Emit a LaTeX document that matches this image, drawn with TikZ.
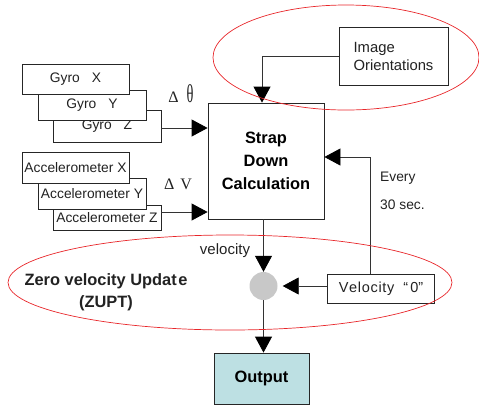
\documentclass[tikz,border=0pt]{standalone}
\usepackage{fontspec}
\setmainfont{Liberation Sans}
\newfontfamily\serifgreek{Liberation Serif}
\usetikzlibrary{arrows.meta}
\definecolor{outfill}{HTML}{BDE0E3}
\definecolor{txtgray}{HTML}{222222}
\definecolor{dotgray}{HTML}{C8C8C8}
\definecolor{ringred}{HTML}{E8262A}
\begin{document}
\begin{tikzpicture}[x=1pt,y=-1pt,
  box/.style={draw=black!85,line width=0.8pt,fill=white,rectangle,inner sep=1pt,
    text=txtgray,font=\fontsize{13.8}{16}\selectfont},
  bigbox/.style={draw=black!85,line width=0.8pt,fill=white,rectangle,
    font=\fontsize{16.4}{23}\selectfont\bfseries,align=center},
  lbl/.style={inner sep=0pt,text=txtgray},
  arr/.style={draw=black!80,line width=0.8pt,-{Triangle[length=16pt,width=17pt,color=black]}},
  ring/.style={draw=ringred,line width=0.7pt}]
\useasboundingbox (0,0) rectangle (479,405);

% sensor stacks (back to front)
\node[box,minimum width=108pt,minimum height=32pt] (gz) at (107,126) {Gyro\hspace{12pt}Z};
\node[box,minimum width=108pt,minimum height=30pt] (gy) at (92,105) {Gyro\hspace{12pt}Y};
\node[box,minimum width=107pt,minimum height=30pt] (gx) at (75.5,79) {Gyro\hspace{12pt}X};
\node[box,minimum width=108pt,minimum height=25pt] (az) at (107,217.5) {Accelerometer Z};
\node[box,minimum width=108pt,minimum height=31pt] (ay) at (92,193.5) {Accelerometer Y};
\node[box,minimum width=107pt,minimum height=31pt] (ax) at (75.5,167.5) {Accelerometer X};

% processing blocks
\node[bigbox,minimum width=116pt,minimum height=116pt] (sd) at (266,161) {Strap\\Down\\Calculation};
\node[box,minimum width=109pt,minimum height=58pt,align=left,
  font=\fontsize{14.8}{18}\selectfont] (img) at (393.5,56) {Image\\Orientations};
\node[box,minimum width=107pt,minimum height=29pt,font=\fontsize{14.5}{16}\selectfont] (vz) at (381,288.5)
  {V\hspace{0.7pt}e\hspace{0.7pt}l\hspace{0.7pt}o\hspace{0.7pt}c\hspace{0.7pt}i\hspace{0.7pt}t\hspace{0.7pt}y\hspace{9pt}“\hspace{2pt}0”};
\node[circle,fill=dotgray,minimum size=28pt,inner sep=0pt] (zu) at (263.5,286) {};
\node[draw=black!85,line width=0.8pt,fill=outfill,minimum width=95pt,minimum height=51pt,
  font=\fontsize{16.4}{20}\selectfont\bfseries] (out) at (261.5,378.5) {Output};

% labels
\node[lbl,font=\fontsize{16}{18}\selectfont] (dth) at (181,94)
  {\serifgreek Δ\hspace{8pt}\scalebox{0.9}[1.6]{θ}};
\node[lbl,font=\fontsize{16}{18}\selectfont] (dv) at (178,184) {\serifgreek Δ\hspace{6pt}V};
\node[lbl,font=\fontsize{15}{18}\selectfont] (vel) at (225,251) {velocity};
\node[lbl,font=\fontsize{13.8}{16}\selectfont,anchor=west] (ev) at (380,178) {Every};
\node[lbl,font=\fontsize{13.8}{16}\selectfont,anchor=west] (sec) at (380,205) {30 sec.};
\node[lbl,font=\fontsize{16.4}{22}\selectfont\bfseries,align=center] (zupt) at (106,292)
  {Zero velocity Updat\hspace{1.5pt}e\\(ZUPT)};

% connectors
\coordinate (imgdrop) at ([xshift=-4pt]sd.north);
\draw[arr] (img.west) -| (imgdrop);
\draw[arr] ([yshift=-2pt]gz.east) -- ([yshift=-2pt]gz.east -| sd.west);
\draw[arr] ([yshift=5.5pt]az.east) -- ([yshift=5.5pt]az.east -| sd.west);
\draw[arr] (sd.south -| zu) -- (zu.north);
\draw[arr] (vz.west |- zu) -- ([xshift=5pt]zu.east);
\draw[arr] ([xshift=-11pt]vz.north) |- ([yshift=4pt]sd.east);
\draw[arr] (zu.south) -- (zu |- out.north);

% highlight rings
\draw[ring] (346,57.5) ellipse [x radius=133, y radius=52.5];
\draw[ring] (230,282.5) ellipse [x radius=222, y radius=47.5];
\end{tikzpicture}
\end{document}
